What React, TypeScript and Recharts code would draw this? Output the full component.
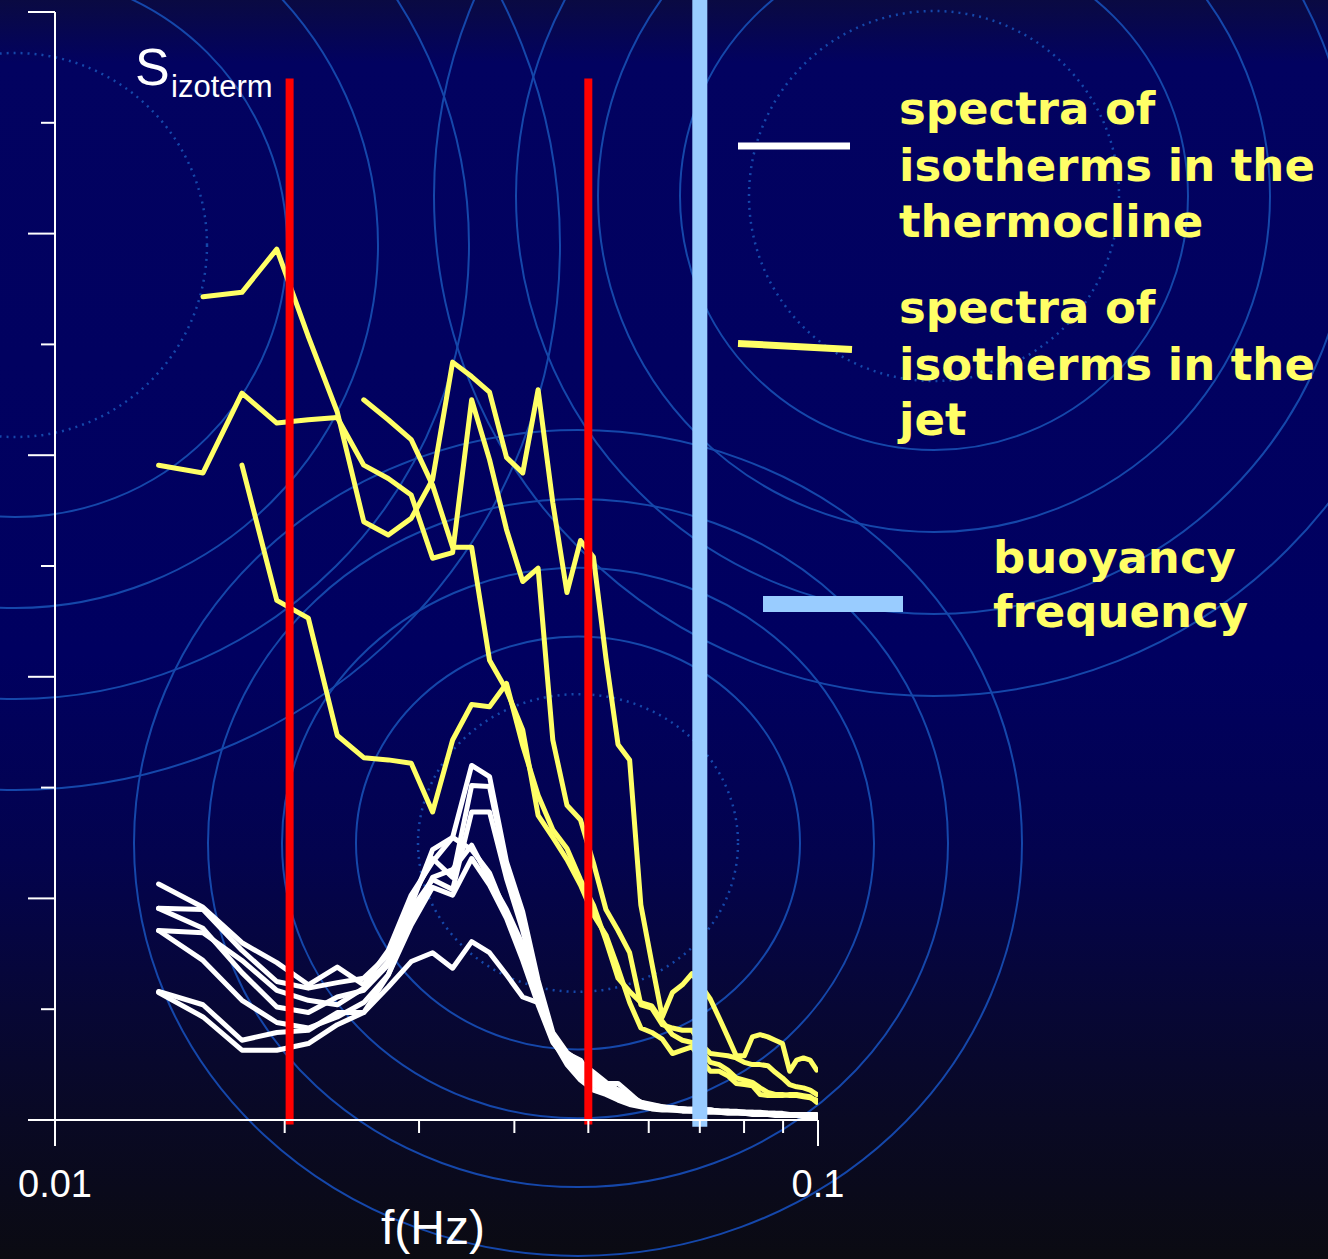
import { ComposedChart, Line, XAxis, YAxis, ReferenceLine } from 'recharts'

const W = 1328
const H = 1259

// spectral estimates on the FFT frequency grid (Hz)
const FREQ = [
  0.01367, 0.01563, 0.01758, 0.01953, 0.02148, 0.02344, 0.02539, 0.02734, 0.0293, 0.03125,
  0.0332, 0.03516, 0.03711, 0.03906, 0.04102, 0.04297, 0.04492, 0.04688, 0.04883, 0.05078,
  0.05273, 0.05469, 0.05664, 0.05859, 0.06055, 0.0625, 0.06445, 0.06641, 0.06836, 0.07031,
  0.07227, 0.07422, 0.07617, 0.07813, 0.08008, 0.08203, 0.08398, 0.08594, 0.08789, 0.08984,
  0.0918, 0.09375, 0.0957, 0.09766, 0.09961,
]

// isotherms in the thermocline
const THERMO_1 = [
  2.13, 1.92, 1.6, 1.42, 1.22, 1.38, 1.22, 1.53, 2.03, 2.33, 2.55, 3.2, 3.1, 2.33, 1.88, 1.26, 0.79, 0.61, 0.52, 0.43,
  0.34, 0.27, 0.21, 0.16, 0.14, 0.12, 0.11, 0.1, 0.09, 0.09, 0.08, 0.08, 0.08, 0.07, 0.07, 0.07, 0.06, 0.06, 0.06, 0.05,
  0.05, 0.05, 0.05, 0.05, 0.04,
]
const THERMO_2 = [
  1.91, 1.9, 1.53, 1.25, 1.19, 1.24, 1.28, 1.49, 1.99, 2.36, 2.19, 3.02, 3.01, 2.27, 1.82, 1.22, 0.77, 0.59, 0.49, 0.38,
  0.31, 0.24, 0.2, 0.15, 0.13, 0.11, 0.11, 0.1, 0.1, 0.09, 0.09, 0.08, 0.08, 0.08, 0.07, 0.07, 0.07, 0.06, 0.06, 0.06,
  0.05, 0.05, 0.05, 0.05, 0.05,
]
const THERMO_3 = [
  1.91, 1.73, 1.33, 1.02, 0.97, 1.11, 1.17, 1.4, 1.9, 2.17, 2.08, 2.78, 2.78, 2.18, 1.71, 1.17, 0.74, 0.57, 0.45, 0.36,
  0.32, 0.27, 0.22, 0.16, 0.13, 0.12, 0.1, 0.1, 0.09, 0.09, 0.09, 0.08, 0.08, 0.07, 0.07, 0.06, 0.06, 0.06, 0.05, 0.05,
  0.05, 0.04, 0.04, 0.04, 0.04,
]
const THERMO_4 = [
  1.71, 1.69, 1.44, 1.17, 1.08, 1.04, 1.19, 1.43, 1.94, 2.44, 2.55, 2.44, 2.23, 1.85, 1.53, 1.08, 0.72, 0.54, 0.43, 0.33,
  0.27, 0.23, 0.18, 0.14, 0.12, 0.11, 0.1, 0.1, 0.09, 0.08, 0.08, 0.08, 0.07, 0.07, 0.06, 0.06, 0.06, 0.05, 0.05, 0.05,
  0.04, 0.04, 0.04, 0.04, 0.03,
]
const THERMO_5 = [
  1.71, 1.44, 1.08, 0.88, 0.83, 0.93, 1.06, 1.31, 1.81, 2.19, 2.26, 2.48, 2.17, 1.9, 1.58, 1.13, 0.77, 0.6, 0.54, 0.36,
  0.33, 0.33, 0.24, 0.15, 0.12, 0.1, 0.1, 0.09, 0.09, 0.1, 0.09, 0.08, 0.07, 0.07, 0.07, 0.06, 0.06, 0.06, 0.05, 0.05,
  0.05, 0.04, 0.04, 0.04, 0.04,
]
const THERMO_6 = [
  1.16, 1.04, 0.72, 0.79, 0.81, 0.97, 0.97, 1.31, 1.76, 2.1, 2.03, 2.36, 2.12, 1.82, 1.44, 1.04, 0.7, 0.54, 0.41, 0.32,
  0.25, 0.21, 0.16, 0.14, 0.11, 0.1, 0.09, 0.09, 0.08, 0.08, 0.08, 0.07, 0.07, 0.07, 0.06, 0.06, 0.06, 0.05, 0.05, 0.05,
  0.04, 0.04, 0.04, 0.03, 0.03,
]
const THERMO_7 = [
  1.15, 0.93, 0.63, 0.63, 0.69, 0.86, 0.97, 1.2, 1.43, 1.51, 1.37, 1.61, 1.51, 1.31, 1.11, 1.06, 0.72, 0.5, 0.36, 0.27,
  0.23, 0.18, 0.14, 0.12, 0.1, 0.09, 0.09, 0.08, 0.08, 0.07, 0.07, 0.07, 0.06, 0.06, 0.06, 0.05, 0.05, 0.05, 0.04, 0.04,
  0.04, 0.04, 0.03, 0.03, 0.03,
]

// isotherms in the jet
const JET_1 = [
  null, 7.43, 7.47, 7.86, 7.07, 6.39, 5.4, 5.28, 5.43, 5.78, 6.84, 6.71, 6.57, 5.98, 5.84, 6.59, 5.57, 4.76, 5.23, 5.08,
  4.17, 3.39, 3.25, 1.94, 1.42, 0.93, 1.15, 1.22, 1.32, 1.21, 1.09, 0.92, 0.75, 0.58, 0.58, 0.75, 0.77, 0.75, 0.72, 0.69,
  0.44, 0.54, 0.56, 0.54, 0.45,
]
const JET_2 = [
  5.91, 5.84, 6.56, 6.29, 6.32, 6.34, 5.91, 5.79, 5.64, 5.07, 5.12, 6.5, 5.96, 5.33, 4.86, 4.98, 3.43, 2.84, 2.71, 2.32,
  1.9, 1.71, 1.51, 1.04, 1.01, 0.86, 0.83, 0.81, 0.81, 0.68, 0.6, 0.59, 0.58, 0.56, 0.52, 0.5, 0.5, 0.49, 0.43, 0.38,
  0.32, 0.3, 0.29, 0.27, 0.23,
]
const JET_3 = [
  null, null, 5.91, 4.69, 4.53, 3.47, 3.27, 3.25, 3.22, 2.78, 3.43, 3.75, 3.73, 3.94, 3.38, 2.93, 2.62, 2.45, 2.17, 1.94,
  1.62, 1.28, 1.16, 1.06, 1.03, 0.89, 0.77, 0.72, 0.7, 0.63, 0.52, 0.5, 0.45, 0.38, 0.36, 0.34, 0.29, 0.25, 0.23, 0.23,
  0.22, 0.22, 0.21, 0.2, 0.18,
]
const JET_4 = [
  null, null, null, null, null, null, 6.5, 6.32, 6.14, 5.73, 5.17, 5.17, 4.15, 3.88, 3.52, 2.75, 2.55, 2.35, 2.12, 1.85,
  1.67, 1.37, 1.06, 0.83, 0.79, 0.73, 0.6, 0.63, 0.66, 0.54, 0.44, 0.44, 0.4, 0.33, 0.32, 0.31, 0.23, 0.22, 0.22, 0.22,
  0.23, 0.23, 0.22, 0.21, 0.16,
]

const BAND_EDGES = [0.0203, 0.05]
const BUOYANCY_FREQ = 0.07

const X_TICKS = [0.01, 0.02, 0.03, 0.04, 0.05, 0.06, 0.07, 0.08, 0.09, 0.1]
const X_LABELS = ['0.01', '0.1']
const Y_TICKS = [0, 1, 2, 3, 4, 5, 6, 7, 8, 9, 10]

const THERMOCLINE = [THERMO_1, THERMO_2, THERMO_3, THERMO_4, THERMO_5, THERMO_6, THERMO_7]
const JET = [JET_1, JET_2, JET_3, JET_4]

const rows = FREQ.map((f, i) => {
  const row: Record<string, number | null> = { f }
  THERMOCLINE.forEach((s, n) => { row[`t${n}`] = s[i] })
  JET.forEach((s, n) => { row[`j${n}`] = s[i] })
  return row
})

const YELLOW = '#ffff66'
const RING = '#1547aa'
const SANS = '"Liberation Sans", Arial, sans-serif'
const BOLD = '"DejaVu Sans", Verdana, sans-serif'

// background rings of the slide template (slightly squashed vertically)
const RINGS = [
  { cx: 578, cy: 843, k: 0.93, dotted: [160], solid: [222, 296, 370, 444] },
  { cx: 934, cy: 196, k: 1, dotted: [185], solid: [254, 336, 418, 500] },
  { cx: 15, cy: 245, k: 1, dotted: [192], solid: [272, 363, 454, 545] },
]

function FreqTick(props: any) {
  const { x, y, index } = props
  const major = index === 0 || index === X_TICKS.length - 1
  return (
    <g>
      <line x1={x} x2={x} y1={y} y2={y + (major ? 26 : 13)} stroke="#fff" strokeWidth={2} />
      {major && (
        <text x={x} y={y + 77} textAnchor="middle" fill="#fff" fontSize={38} fontFamily={SANS}>
          {index === 0 ? X_LABELS[0] : X_LABELS[1]}
        </text>
      )}
    </g>
  )
}

function LevelTick(props: any) {
  const { x, y, payload } = props
  const len = payload.value % 2 === 0 ? 27 : 14
  return <line x1={x - len} x2={x} y1={y} y2={y} stroke="#fff" strokeWidth={2} />
}

export default function App() {
  return (
    <div
      style={{
        position: 'absolute',
        left: 0,
        top: 0,
        width: W,
        height: H,
        overflow: 'hidden',
        background:
          'linear-gradient(180deg, #0a0a42 0%, #020260 5%, #000060 52%, #03034e 68%, #070735 80%, #090924 89%, #0b0b12 100%)',
      }}
    >
      <svg width={W} height={H} style={{ position: 'absolute', left: 0, top: 0 }}>
        {RINGS.map((g, i) => (
          <g key={i} fill="none" stroke={RING}>
            {g.dotted.map((r) => (
              <ellipse key={`d${r}`} cx={g.cx} cy={g.cy} rx={r} ry={r * g.k} strokeWidth={2.5} strokeDasharray="2 5" />
            ))}
            {g.solid.map((r) => (
              <ellipse key={`s${r}`} cx={g.cx} cy={g.cy} rx={r} ry={r * g.k} strokeWidth={2} />
            ))}
          </g>
        ))}
      </svg>

      <div style={{ position: 'absolute', left: 0, top: 0 }}>
        <ComposedChart width={W} height={H} data={rows} margin={{ top: 12, right: 510, bottom: 0, left: 0 }}>
          <XAxis
            dataKey="f"
            type="number"
            scale="log"
            domain={[0.01, 0.1]}
            ticks={X_TICKS}
            interval={0}
            allowDataOverflow
            height={139}
            tickSize={0}
            tickMargin={0}
            tickLine={false}
            axisLine={{ stroke: '#fff', strokeWidth: 2 }}
            tick={(p: any) => <FreqTick {...p} />}
          />
          <YAxis
            type="number"
            domain={[0, 10]}
            ticks={Y_TICKS}
            interval={0}
            allowDataOverflow
            width={55}
            tickSize={0}
            tickMargin={0}
            tickLine={false}
            axisLine={{ stroke: '#fff', strokeWidth: 2 }}
            tick={(p: any) => <LevelTick {...p} />}
          />
          {THERMOCLINE.map((_, n) => (
            <Line
              key={`t${n}`}
              dataKey={`t${n}`}
              type="linear"
              stroke="#ffffff"
              strokeWidth={5}
              strokeLinejoin="round"
              strokeLinecap="round"
              dot={false}
              activeDot={false}
              isAnimationActive={false}
            />
          ))}
          {JET.map((_, n) => (
            <Line
              key={`j${n}`}
              dataKey={`j${n}`}
              type="linear"
              stroke={YELLOW}
              strokeWidth={5}
              strokeLinejoin="round"
              strokeLinecap="round"
              dot={false}
              activeDot={false}
              isAnimationActive={false}
            />
          ))}
          {BAND_EDGES.map((f) => (
            <ReferenceLine
              key={f}
              segment={[{ x: f, y: 9.4 }, { x: f, y: -0.04 }]}
              stroke="#ff0000"
              strokeWidth={8}
              ifOverflow="visible"
            />
          ))}
          <ReferenceLine
            segment={[{ x: BUOYANCY_FREQ, y: 10.2 }, { x: BUOYANCY_FREQ, y: -0.06 }]}
            stroke="#99ccff"
            strokeWidth={15}
            ifOverflow="visible"
          />
        </ComposedChart>
      </div>

      <svg width={W} height={H} style={{ position: 'absolute', left: 0, top: 0, pointerEvents: 'none' }}>
        <text x={135} y={85} fill="#fff" fontSize={52} fontFamily={SANS}>S</text>
        <text x={171} y={97} fill="#fff" fontSize={31} fontFamily={SANS}>izoterm</text>
        <text x={433} y={1244} fill="#fff" fontSize={48} fontFamily={SANS} textAnchor="middle">f(Hz)</text>

        <line x1={738} x2={850} y1={146} y2={146} stroke="#ffffff" strokeWidth={7} />
        <line x1={738} x2={852} y1={343.5} y2={349.5} stroke={YELLOW} strokeWidth={7} />
        <rect x={763} y={596} width={140} height={16} fill="#99ccff" />

        <g fill={YELLOW} fontSize={45} fontWeight="bold" fontFamily={BOLD}>
          <text x={899} y={124}>spectra of</text>
          <text x={899} y={181}>isotherms in the</text>
          <text x={899} y={237}>thermocline</text>
          <text x={899} y={323}>spectra of</text>
          <text x={899} y={380}>isotherms in the</text>
          <text x={899} y={435}>jet</text>
          <text x={993} y={573}>buoyancy</text>
          <text x={993} y={627}>frequency</text>
        </g>
      </svg>
    </div>
  )
}
